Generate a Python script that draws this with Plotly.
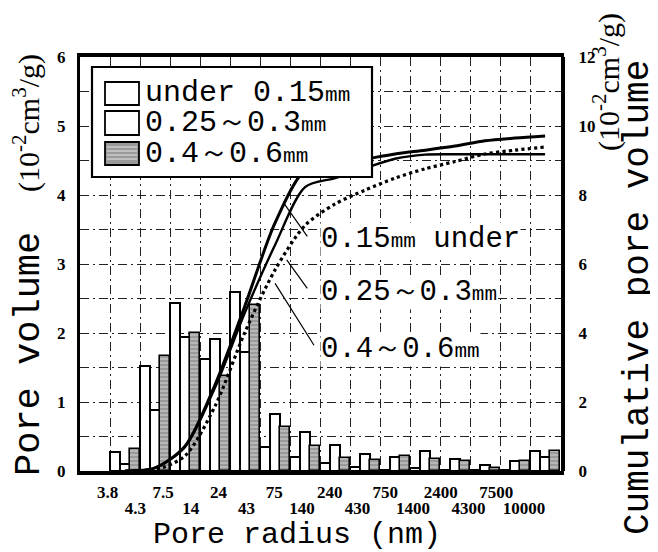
import plotly.graph_objects as go

# ---------------- data ----------------
size_labels = ["under 0.15mm", "0.25～0.3mm", "0.4～0.6mm"]
radius_ticks = ["3.8", "4.3", "7.5", "14", "24", "43", "75", "140", "240",
                "430", "750", "1400", "2400", "4300", "7500", "10000"]
groups = list(range(15))

vol_under015 = [0.28, 1.52, 2.44, 1.63, 2.59, 0.35, 0.21, 0.11, 0.06, 0.02, 0.04, 0.01, 0.01, 0.01, 0.29]
vol_025_03 = [0.10, 0.88, 1.94, 1.92, 1.72, 0.83, 0.56, 0.37, 0.24, 0.20, 0.29, 0.18, 0.09, 0.15, 0.21]
vol_04_06 = [0.32, 1.66, 2.00, 1.38, 2.41, 0.64, 0.36, 0.19, 0.16, 0.22, 0.17, 0.14, 0.05, 0.14, 0.29]

cum_under015 = [0, 0.09, 0.72, 2.50, 4.80, 7.19, 8.72, 8.90, 9.04, 9.19, 9.30, 9.42, 9.57, 9.65, 9.71]
cum_04_06 = [0, 0.09, 0.70, 2.42, 4.60, 6.55, 8.23, 8.49, 8.78, 9.05, 9.17, 9.18, 9.18, 9.18, 9.18]
cum_025_03 = [0, 0.03, 0.44, 1.88, 4.03, 5.83, 7.12, 7.74, 8.14, 8.49, 8.76, 8.97, 9.19, 9.30, 9.39]

# ---------------- layout helpers (screen pixel coords) ----------------
PAGE_OFF = 8                       # default body margin of the html page
L, R, T, B = 80, 561, 57, 471      # plot area on screen
W, H = 658 - PAGE_OFF, 552 - PAGE_OFF


def px(x):
    return (x - L) / (R - L)


def py(y):
    return (B - y) / (B - T)


MONO = "Liberation Mono"
SERIF = "Liberation Serif"
BLACK = "black"
MM = "<span style='font-size:21px'>mm</span>"

fig = go.Figure()

# bars
bar_styles = [
    dict(color="white", line=dict(color=BLACK, width=2)),
    dict(color="white", line=dict(color=BLACK, width=2)),
    dict(color="#a0a0a0", line=dict(color=BLACK, width=1.6),
         pattern=dict(shape="-", bgcolor="#9a9a9a", fgcolor="#eeeeee", size=4, solidity=0.35)),
]
for name, vals, st in zip(size_labels, [vol_under015, vol_025_03, vol_04_06], bar_styles):
    fig.add_trace(go.Bar(x=groups, y=vals, name=name, marker=st, yaxis="y"))

# cumulative curves
fig.add_trace(go.Scatter(x=groups, y=cum_under015, mode="lines", yaxis="y2",
                         line=dict(color=BLACK, width=3, shape="spline", smoothing=0.8),
                         name="0.15mm under"))
fig.add_trace(go.Scatter(x=groups, y=cum_04_06, mode="lines", yaxis="y2",
                         line=dict(color=BLACK, width=2.4, shape="spline", smoothing=0.8),
                         name="0.4～0.6mm"))
fig.add_trace(go.Scatter(x=groups, y=cum_025_03, mode="lines", yaxis="y2",
                         line=dict(color=BLACK, width=3.2, dash="dot", shape="spline", smoothing=0.8),
                         name="0.25～0.3mm"))
# carrier trace for the second (staggered) row of x tick labels
fig.add_trace(go.Scatter(x=[None], y=[None], xaxis="x2", yaxis="y", mode="markers",
                         showlegend=False, hoverinfo="skip"))

GRID = dict(gridcolor="#222222", gridwidth=1, griddash="9px,4px,2px,4px")
TICKFONT = dict(family=SERIF, size=17, color=BLACK, weight="bold")
XRANGE = [-1.5, 14.53]

tick_pos = [-0.583 + 0.9256 * k for k in range(len(radius_ticks))]

fig.update_layout(
    width=W, height=H,
    margin=dict(l=L - PAGE_OFF, r=W - (R - PAGE_OFF), t=T - PAGE_OFF, b=H - (B - PAGE_OFF),
                autoexpand=False),
    plot_bgcolor="white", paper_bgcolor="white",
    barmode="group", bargap=0, bargroupgap=0,
    showlegend=False,
    xaxis=dict(range=XRANGE, tickmode="array", tickvals=tick_pos[0::2], ticktext=radius_ticks[0::2],
               tickangle=0, automargin=False,
               showgrid=False, zeroline=False, ticks="",
               tickfont=TICKFONT, ticklabelstandoff=3,
               showline=True, linecolor=BLACK, linewidth=3.5, mirror=True,
               minor=dict(tickmode="linear", tick0=-0.5, dtick=1, showgrid=True, ticks="", **GRID)),
    xaxis2=dict(range=XRANGE, overlaying="x", anchor="y", side="bottom",
                tickmode="array", tickvals=tick_pos[1::2], ticktext=radius_ticks[1::2],
                tickangle=0, automargin=False, showgrid=False, zeroline=False, ticks="",
                showline=False, tickfont=TICKFONT, ticklabelstandoff=25),
    yaxis=dict(range=[0, 6], dtick=1, showgrid=True, zeroline=False, ticks="", automargin=False,
               tickfont=TICKFONT, ticklabelstandoff=8,
               showline=True, linecolor=BLACK, linewidth=3, mirror=True,
               minor=dict(dtick=0.5, showgrid=True, ticks="", **GRID), **GRID),
    yaxis2=dict(range=[0, 12], tickvals=list(range(0, 13, 2)), overlaying="y", side="right",
                showgrid=False, zeroline=False, ticks="", automargin=False,
                tickfont=TICKFONT, ticklabelstandoff=10,
                showline=True, linecolor=BLACK, linewidth=4),
)

# custom legend box
shapes = [dict(type="rect", xref="paper", yref="paper", layer="above",
               x0=px(92), x1=px(372), y0=py(177), y1=py(67),
               line=dict(color=BLACK, width=2.2), fillcolor="white")]
rows = [(82, 105), (111, 135), (142, 165)]
fills = ["white", "white", "#9a9a9a"]
for (ya, yb), f in zip(rows, fills):
    shapes.append(dict(type="rect", xref="paper", yref="paper", layer="above",
                       x0=px(105), x1=px(139), y0=py(yb), y1=py(ya),
                       line=dict(color=BLACK, width=1.8), fillcolor=f))
for yy in [147, 151, 155, 159]:
    shapes.append(dict(type="line", xref="paper", yref="paper", layer="above",
                       x0=px(107), x1=px(137), y0=py(yy), y1=py(yy),
                       line=dict(color="#e6e6e6", width=1)))
fig.update_layout(shapes=shapes)

ann = []
legend_txt = ["under 0.15" + MM, "0.25～0.3" + MM, "0.4～0.6" + MM]
for (ya, yb), t in zip(rows, legend_txt):
    ann.append(dict(xref="paper", yref="paper", x=px(143), y=py((ya + yb) / 2),
                    xanchor="left", yanchor="middle", showarrow=False, text=t,
                    font=dict(family=MONO, size=30, color=BLACK)))

# curve labels
curve_labels = [("0.15" + MM + " under", 6.70), ("0.25～0.3" + MM, 5.16), ("0.4～0.6" + MM, 3.51)]
for t, yv in curve_labels:
    ann.append(dict(xref="x", yref="y2", x=6.5, y=yv, xanchor="left", yanchor="middle",
                    showarrow=False, text=t, bgcolor="white", borderpad=0,
                    font=dict(family=MONO, size=29, color=BLACK)))
# leader lines
leaders = [((5.28, 7.78), (6.11, 6.76)), ((5.39, 6.12), (6.11, 5.25)), ((5.0, 5.44), (6.33, 3.6))]
for (tx, ty), (ax_, ay_) in leaders:
    ann.append(dict(xref="x", yref="y2", x=tx, y=ty, axref="x", ayref="y2", ax=ax_, ay=ay_,
                    text="", showarrow=True, arrowhead=0, arrowwidth=1.2, arrowcolor=BLACK))

# axis titles
unit = "(10<sup>-2</sup>cm<sup>3</sup>/g)"
ann += [
    dict(xref="paper", yref="paper", x=px(297), y=py(535), text="Pore radius (nm)",
         xanchor="center", yanchor="middle",
         showarrow=False, font=dict(family=MONO, size=30, color=BLACK)),
    dict(xref="paper", yref="paper", x=px(29), y=py(354), text="Pore volume", textangle=-90,
         xanchor="center", yanchor="middle",
         showarrow=False, font=dict(family=MONO, size=37, color=BLACK)),
    dict(xref="paper", yref="paper", x=px(26), y=py(123), text=unit, textangle=-90,
         xanchor="center", yanchor="middle",
         showarrow=False, font=dict(family=SERIF, size=30, color=BLACK)),
    dict(xref="paper", yref="paper", x=px(638), y=py(298), text="Cumulative pore volume", textangle=-90,
         xanchor="center", yanchor="middle",
         showarrow=False, font=dict(family=MONO, size=36, color=BLACK)),
    dict(xref="paper", yref="paper", x=px(606), y=py(82), text=unit, textangle=-90,
         xanchor="center", yanchor="middle",
         showarrow=False, font=dict(family=SERIF, size=30, color=BLACK)),
]
fig.update_layout(annotations=ann)

fig.write_html("out.html")
